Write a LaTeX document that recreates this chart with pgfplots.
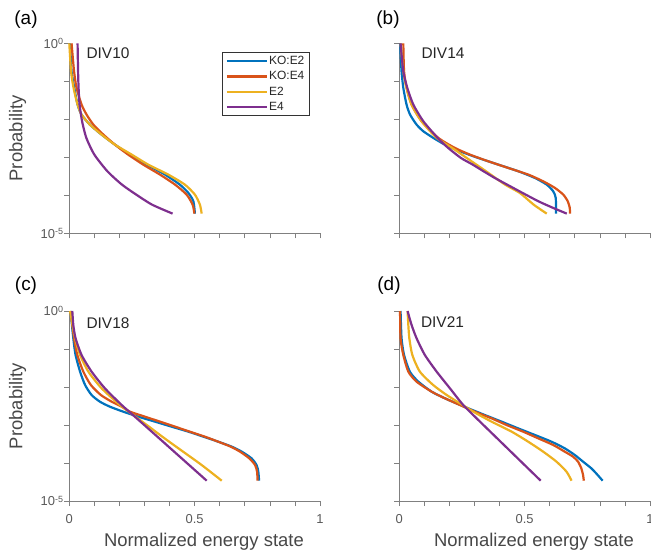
\documentclass[border=0pt]{standalone}
\usepackage{pgfplots}
\pgfplotsset{compat=1.18}
\usepackage{fontspec}
\setmainfont{Liberation Sans}
\definecolor{cB}{rgb}{0,0.447,0.741}
\definecolor{cO}{rgb}{0.851,0.325,0.098}
\definecolor{cY}{rgb}{0.929,0.694,0.125}
\definecolor{cP}{rgb}{0.494,0.184,0.556}
\newcommand{\tp}[1]{10\raisebox{0.55ex}{\fontsize{9}{9}\selectfont #1}}
\pgfplotsset{
  panel/.style={
    scale only axis, width=250.7bp, height=190bp,
    xmin=0,xmax=1,ymin=-5,ymax=0,
    axis lines*=left,
    axis line style={black!50, line width=0.7bp},
    every tick/.style={black!50, line width=0.7bp},
    tick align=outside,
    major tick length=5bp,
    xtick={0,0.1,0.2,0.3,0.4,0.5,0.6,0.7,0.8,0.9,1},
    ytick={-5,-4,-3,-2,-1,0},
    /pgf/number format/assume math mode=true,
    tick label style={font=\fontsize{13}{13}\selectfont, text=black!65},
    xticklabel style={inner sep=1bp, yshift=-7bp},
    yticklabel style={inner sep=1bp},
    xlabel style={at={(axis description cs:0.537,-0.2158)}, anchor=center, font=\fontsize{18.5}{18.5}\selectfont, text=black!72},
    ylabel style={at={(axis description cs:-0.2066,0.5)}, anchor=center, font=\fontsize{18.5}{18.5}\selectfont, text=black!72},
    every axis plot/.append style={line width=2.2bp, smooth, tension=0.4},
    clip=false,
  },
  noxl/.style={xticklabels={}},
  xl/.style={xticklabels={0,,,,,0.5,,,,,1}, xlabel={Normalized energy state}},
  noyl/.style={yticklabels={}},
  yl/.style={yticklabels={\tp{-5},,,,,\tp{0}}, ylabel={Probability}},
}
\begin{document}
\begin{tikzpicture}
\path[use as bounding box] (0bp,0bp) rectangle (651bp,-554bp);
% (a)
\begin{axis}[panel, noxl, yl, at={(69.3bp,-43.3bp)}, anchor=north west,
  legend style={at={(0.609,0.954)}, anchor=north west, draw=black!80, line width=0.6bp,
    font=\fontsize{12}{12}\selectfont, text=black!85, inner xsep=3.5bp, inner ysep=2.5bp,
    row sep=3.2bp, nodes={inner sep=1.2bp}},
  legend cell align=left,
  legend image code/.code={\draw[#1, line width=2.2bp] (0bp,0bp) -- (40bp,0bp);}]
\addplot[cB] coordinates {(0.003,0) (0.009,-0.737) (0.020,-1.175) (0.033,-1.614) (0.049,-1.877) (0.082,-2.140) (0.129,-2.404) (0.182,-2.667) (0.242,-2.930) (0.309,-3.193) (0.382,-3.456) (0.441,-3.719) (0.475,-3.939) (0.495,-4.158) (0.501,-4.482)};
\addlegendentry{KO:E2}
\addplot[cO] coordinates {(0.009,0) (0.019,-0.737) (0.029,-1.175) (0.049,-1.614) (0.069,-1.877) (0.096,-2.140) (0.136,-2.404) (0.182,-2.667) (0.235,-2.930) (0.295,-3.193) (0.362,-3.456) (0.422,-3.719) (0.468,-3.982) (0.492,-4.246) (0.499,-4.482)};
\addlegendentry{KO:E4}
\addplot[cY] coordinates {(0,0) (0.007,-0.737) (0.017,-1.175) (0.033,-1.614) (0.049,-1.877) (0.082,-2.140) (0.129,-2.404) (0.182,-2.667) (0.249,-2.930) (0.315,-3.193) (0.395,-3.456) (0.461,-3.719) (0.501,-3.982) (0.521,-4.246) (0.528,-4.482)};
\addlegendentry{E2}
\addplot[cP] coordinates {(0.033,0) (0.035,-0.737) (0.037,-1.175) (0.041,-1.614) (0.051,-2.053) (0.068,-2.491) (0.100,-2.930) (0.152,-3.368) (0.210,-3.719) (0.267,-3.982) (0.330,-4.246) (0.412,-4.482)};
\addlegendentry{E4}
\end{axis}
% (b)
\begin{axis}[panel, noxl, noyl, at={(399.3bp,-43.3bp)}, anchor=north west]
\addplot[cB] coordinates {(0.003,0) (0.009,-0.737) (0.016,-1.175) (0.029,-1.614) (0.043,-1.877) (0.069,-2.140) (0.096,-2.316) (0.136,-2.491) (0.182,-2.667) (0.242,-2.842) (0.315,-3.018) (0.395,-3.193) (0.475,-3.368) (0.541,-3.544) (0.588,-3.719) (0.614,-3.895) (0.624,-4.070) (0.625,-4.482)};
\addplot[cO] coordinates {(0.016,0) (0.019,-0.737) (0.029,-1.175) (0.049,-1.614) (0.089,-2.053) (0.156,-2.491) (0.222,-2.754) (0.282,-2.930) (0.355,-3.105) (0.435,-3.281) (0.515,-3.456) (0.574,-3.632) (0.621,-3.807) (0.654,-3.982) (0.672,-4.158) (0.680,-4.333) (0.681,-4.482)};
\addplot[cY] coordinates {(0.005,0) (0.016,-0.737) (0.029,-1.175) (0.049,-1.614) (0.089,-2.053) (0.149,-2.491) (0.211,-2.754) (0.269,-3.018) (0.346,-3.368) (0.422,-3.719) (0.481,-3.939) (0.536,-4.246) (0.588,-4.482)};
\addplot[cP] coordinates {(0.005,0) (0.016,-0.737) (0.032,-1.175) (0.056,-1.614) (0.096,-2.053) (0.153,-2.491) (0.195,-2.754) (0.246,-3.018) (0.293,-3.193) (0.336,-3.368) (0.381,-3.544) (0.430,-3.719) (0.492,-3.939) (0.555,-4.158) (0.614,-4.333) (0.668,-4.482)};
\end{axis}
% (c)
\begin{axis}[panel, xl, yl, at={(69.3bp,-311bp)}, anchor=north west]
\addplot[cB] coordinates {(0.005,0) (0.016,-0.719) (0.025,-1.158) (0.043,-1.596) (0.063,-1.947) (0.089,-2.211) (0.122,-2.386) (0.162,-2.518) (0.215,-2.649) (0.275,-2.781) (0.342,-2.912) (0.408,-3.044) (0.475,-3.175) (0.535,-3.307) (0.594,-3.439) (0.648,-3.570) (0.688,-3.702) (0.727,-3.877) (0.747,-4.053) (0.754,-4.228) (0.757,-4.465)};
\addplot[cO] coordinates {(0.005,0) (0.019,-0.719) (0.032,-1.158) (0.056,-1.596) (0.086,-1.947) (0.126,-2.211) (0.169,-2.386) (0.209,-2.518) (0.242,-2.649) (0.302,-2.781) (0.362,-2.912) (0.422,-3.044) (0.481,-3.175) (0.541,-3.307) (0.594,-3.439) (0.644,-3.570) (0.681,-3.702) (0.718,-3.877) (0.741,-4.053) (0.749,-4.228) (0.751,-4.465)};
\addplot[cY] coordinates {(0.003,0) (0.023,-0.719) (0.043,-1.158) (0.076,-1.596) (0.129,-2.035) (0.202,-2.474) (0.255,-2.737) (0.309,-3.0) (0.380,-3.351) (0.454,-3.702) (0.528,-4.053) (0.608,-4.465)};
\addplot[cP] coordinates {(0.012,0) (0.016,-0.368) (0.025,-0.719) (0.049,-1.158) (0.089,-1.596) (0.142,-2.035) (0.209,-2.474) (0.254,-2.737) (0.299,-3.0) (0.384,-3.5) (0.469,-4.0) (0.548,-4.465)};
\end{axis}
% (d)
\begin{axis}[panel, xl, noyl, at={(399.3bp,-311bp)}, anchor=north west]
\addplot[cB] coordinates {(0.005,0) (0.009,-0.719) (0.019,-1.158) (0.042,-1.596) (0.076,-1.860) (0.129,-2.123) (0.182,-2.298) (0.228,-2.430) (0.275,-2.561) (0.341,-2.737) (0.408,-2.912) (0.474,-3.088) (0.541,-3.263) (0.607,-3.439) (0.660,-3.614) (0.700,-3.789) (0.733,-3.965) (0.766,-4.140) (0.789,-4.300) (0.811,-4.465)};
\addplot[cO] coordinates {(0.003,0) (0.005,-0.719) (0.016,-1.158) (0.036,-1.596) (0.069,-1.860) (0.129,-2.123) (0.182,-2.298) (0.242,-2.474) (0.301,-2.649) (0.368,-2.825) (0.428,-3.0) (0.494,-3.175) (0.554,-3.351) (0.614,-3.526) (0.660,-3.702) (0.693,-3.833) (0.713,-3.965) (0.726,-4.140) (0.733,-4.316) (0.736,-4.465)};
\addplot[cY] coordinates {(0.033,0) (0.036,-0.368) (0.040,-0.719) (0.052,-1.158) (0.082,-1.596) (0.135,-1.947) (0.189,-2.211) (0.242,-2.430) (0.295,-2.649) (0.368,-2.912) (0.448,-3.175) (0.514,-3.439) (0.574,-3.702) (0.627,-3.965) (0.667,-4.228) (0.687,-4.465)};
\addplot[cP] coordinates {(0.033,0) (0.049,-0.368) (0.069,-0.719) (0.102,-1.158) (0.149,-1.596) (0.202,-2.035) (0.255,-2.474) (0.316,-2.874) (0.378,-3.272) (0.440,-3.670) (0.502,-4.068) (0.564,-4.465)};
\end{axis}
% panel labels and titles
\node[font=\fontsize{19}{19}\selectfont, inner sep=0pt] at (26bp,-20bp) {(a)};
\node[font=\fontsize{19}{19}\selectfont, inner sep=0pt] at (388bp,-20bp) {(b)};
\node[font=\fontsize{19}{19}\selectfont, inner sep=0pt] at (26bp,-286bp) {(c)};
\node[font=\fontsize{19}{19}\selectfont, inner sep=0pt] at (389bp,-286bp) {(d)};
\node[font=\fontsize{15.5}{15.5}\selectfont, text=black!85, inner sep=0pt] at (108bp,-53bp) {DIV10};
\node[font=\fontsize{15.5}{15.5}\selectfont, text=black!85, inner sep=0pt] at (443bp,-53bp) {DIV14};
\node[font=\fontsize{15.5}{15.5}\selectfont, text=black!85, inner sep=0pt] at (108bp,-323bp) {DIV18};
\node[font=\fontsize{15.5}{15.5}\selectfont, text=black!85, inner sep=0pt] at (442.5bp,-322bp) {DIV21};
\end{tikzpicture}
\end{document}
